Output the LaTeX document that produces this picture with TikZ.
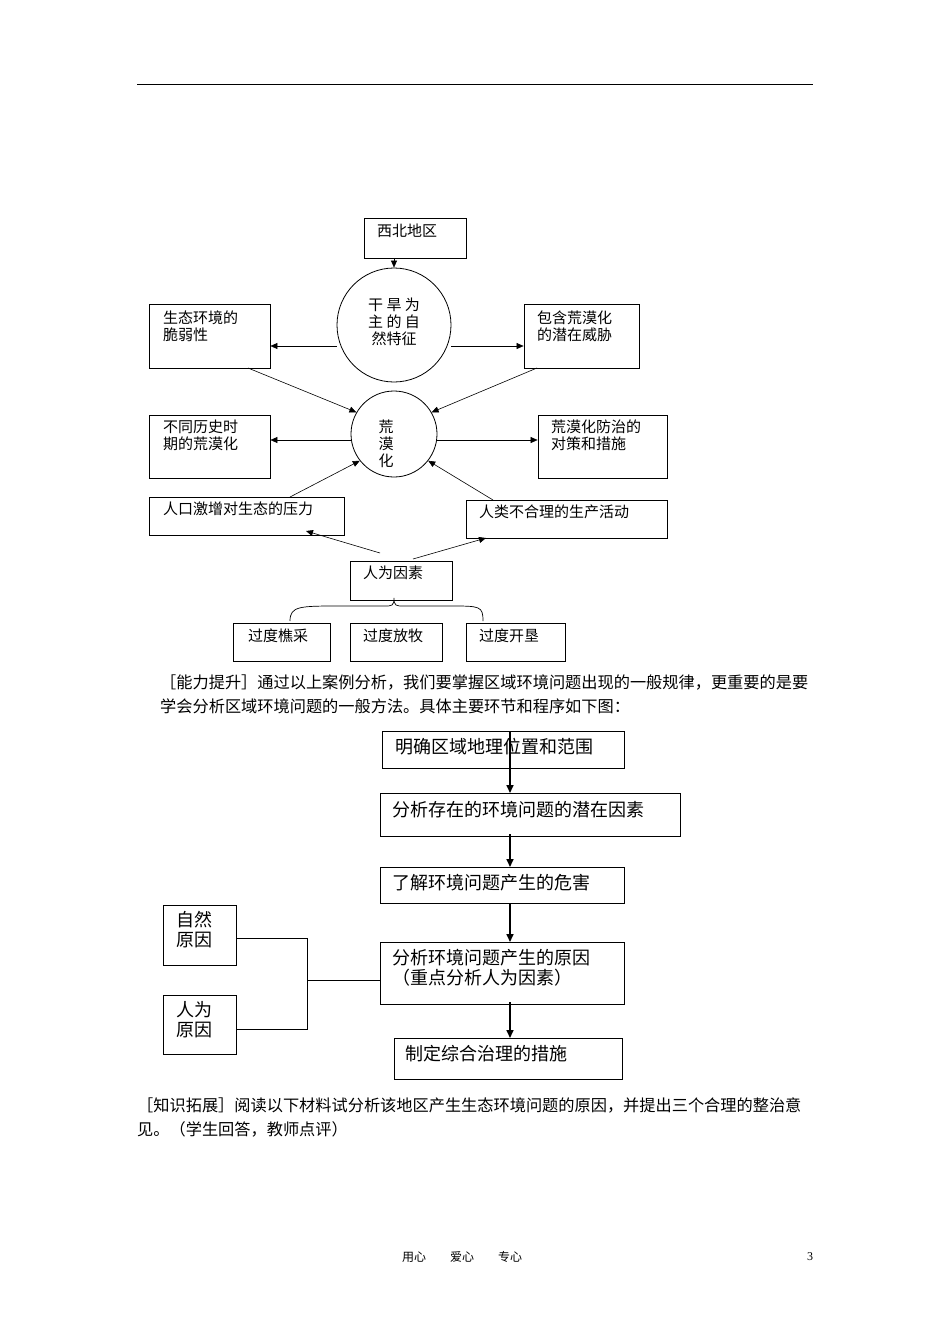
\documentclass[tikz,border=0pt]{standalone}
\usepackage{fontspec}
\setmainfont{Liberation Serif}
\newfontfamily\cjk{Noto Sans CJK SC}
\usetikzlibrary{arrows.meta,decorations.pathreplacing}
\begin{document}
\begin{tikzpicture}[x=1pt,y=-1pt,
 bx/.style={draw,line width=0.8pt,inner sep=0pt},
 ar/.style={-{Triangle[length=7pt,width=6pt]},line width=0.6pt},
 tar/.style={-{Triangle[length=8pt,width=7pt]},line width=1.6pt},
 t/.style={font=\cjk\fontsize{15}{17}\selectfont,anchor=north west,align=left,inner sep=0pt},
 tb/.style={font=\cjk\fontsize{18}{20}\selectfont,anchor=north west,align=left,inner sep=0pt},
 p/.style={font=\cjk\fontsize{16.2}{24}\selectfont,anchor=north west,align=left,inner sep=0pt}]
\useasboundingbox (0,0) rectangle (950,1344);
\draw[line width=0.8pt] (137,84) -- (813,84);
% top diagram
\node[bx,minimum width=102,minimum height=40] (xb) at (415,238) {};
\node[t] at (377,224) {西北地区};
\node[bx,circle,minimum size=114] (c1) at (394,325) {};
\node[t,align=center,anchor=center] at (394,322) {干 旱 为\\主 的 自\\然特征};
\node[bx,minimum width=121,minimum height=64] (l1) at (209.5,336) {};
\node[t] at (163,311) {生态环境的\\脆弱性};
\node[bx,minimum width=115,minimum height=64] (r1) at (581.5,336) {};
\node[t] at (537,311) {包含荒漠化\\的潜在威胁};
\node[bx,circle,minimum size=86] (c2) at (394,434) {};
\node[t,align=center,anchor=center] at (386,444) {荒\\漠\\化};
\node[bx,minimum width=121,minimum height=63] (l2) at (209.5,446.5) {};
\node[t] at (163,420) {不同历史时\\期的荒漠化};
\node[bx,minimum width=129,minimum height=63] (r2) at (602.5,446.5) {};
\node[t] at (551,420) {荒漠化防治的\\对策和措施};
\node[bx,minimum width=195,minimum height=38] (l3) at (246.5,516) {};
\node[t] at (163,502) {人口激增对生态的压力};
\node[bx,minimum width=201,minimum height=38] (r3) at (566.5,519) {};
\node[t] at (479,505) {人类不合理的生产活动};
\node[bx,minimum width=102,minimum height=39] (hf) at (401,580.5) {};
\node[t] at (363,566) {人为因素};
\node[bx,minimum width=97,minimum height=38] (b1) at (281.5,642) {};
\node[t] at (248,629) {过度樵采};
\node[bx,minimum width=92,minimum height=38] (b2) at (396,642) {};
\node[t] at (363,629) {过度放牧};
\node[bx,minimum width=99,minimum height=38] (b3) at (515.5,642) {};
\node[t] at (479,629) {过度开垦};
\draw[ar] (c1.north |- xb.south) -- (c1.north);
\draw[ar] (c1.west |- 0,346) -- (l1.east |- 0,346);
\draw[ar] (c1.east |- 0,346) -- (r1.west |- 0,346);
\draw[ar] (c2.west |- 0,440) -- (l2.east |- 0,440);
\draw[ar] (c2.east |- 0,440) -- (r2.west |- 0,440);
\coordinate (a1) at (248,368); \coordinate (a2) at (537,368);
\coordinate (a3) at (290,497); \coordinate (a4) at (493,500);
\coordinate (a5) at (380,553); \coordinate (a6) at (413,559);
\draw[ar] (a1) -- (c2.150);
\draw[ar] (a2) -- (c2.30);
\draw[ar] (a3) -- (c2.218);
\draw[ar] (a4) -- (c2.322);
\draw[ar] (a5) -- (306,531);
\draw[ar] (a6) -- (486,538);
\draw[line width=0.7pt] (290,621) .. controls (290,606) and (300,606) .. (340,606) -- (384,606) .. controls (392,606) and (394,606) .. (394,598) .. controls (394,606) and (396,606) .. (404,606) -- (450,606) .. controls (480,606) and (483,606) .. (483,621);
\node[p] at (160,675) {［能力提升］通过以上案例分析，我们要掌握区域环境问题出现的一般规律，更重要的是要\\学会分析区域环境问题的一般方法。具体主要环节和程序如下图：};
% flowchart
\node[bx,minimum width=242,minimum height=37] (f1) at (503,749.5) {};
\node[tb] at (395,738) {明确区域地理位置和范围};
\node[bx,minimum width=300,minimum height=43] (f2) at (530,814.5) {};
\node[tb] at (392,801) {分析存在的环境问题的潜在因素};
\node[bx,minimum width=244,minimum height=36] (f3) at (502,885) {};
\node[tb] at (392,874) {了解环境问题产生的危害};
\node[bx,minimum width=244,minimum height=62] (f4) at (502,973) {};
\node[tb] at (392,949) {分析环境问题产生的原因\\（重点分析人为因素）};
\node[bx,minimum width=228,minimum height=41] (f5) at (508,1058.5) {};
\node[tb] at (405,1045) {制定综合治理的措施};
\draw[tar] (510,731) -- (510,793);
\draw[tar] (510,834) -- (510,867);
\draw[tar] (510,903) -- (510,942);
\draw[tar] (510,1002) -- (510,1038);
\node[bx,minimum width=73,minimum height=60] (n1) at (199.5,935) {};
\node[tb] at (176,911) {自然\\原因};
\node[bx,minimum width=73,minimum height=59] (n2) at (199.5,1024.5) {};
\node[tb] at (176,1001) {人为\\原因};
\draw[line width=1pt] (n1.east |- 0,938) -- (307,938) -- (307,1029) -- (n2.east |- 0,1029);
\draw[line width=1pt] (307,980) -- (f4.west |- 0,980);
\node[p] at (137,1098) {［知识拓展］阅读以下材料试分析该地区产生生态环境问题的原因，并提出三个合理的整治意\\见。（学生回答，教师点评）};
\node[font=\cjk\fontsize{12}{14}\selectfont] at (462,1257) {用心\hspace{2em}爱心\hspace{2em}专心};
\node[font=\fontsize{12}{14}\selectfont] at (810,1257) {3};
\end{tikzpicture}
\end{document}
